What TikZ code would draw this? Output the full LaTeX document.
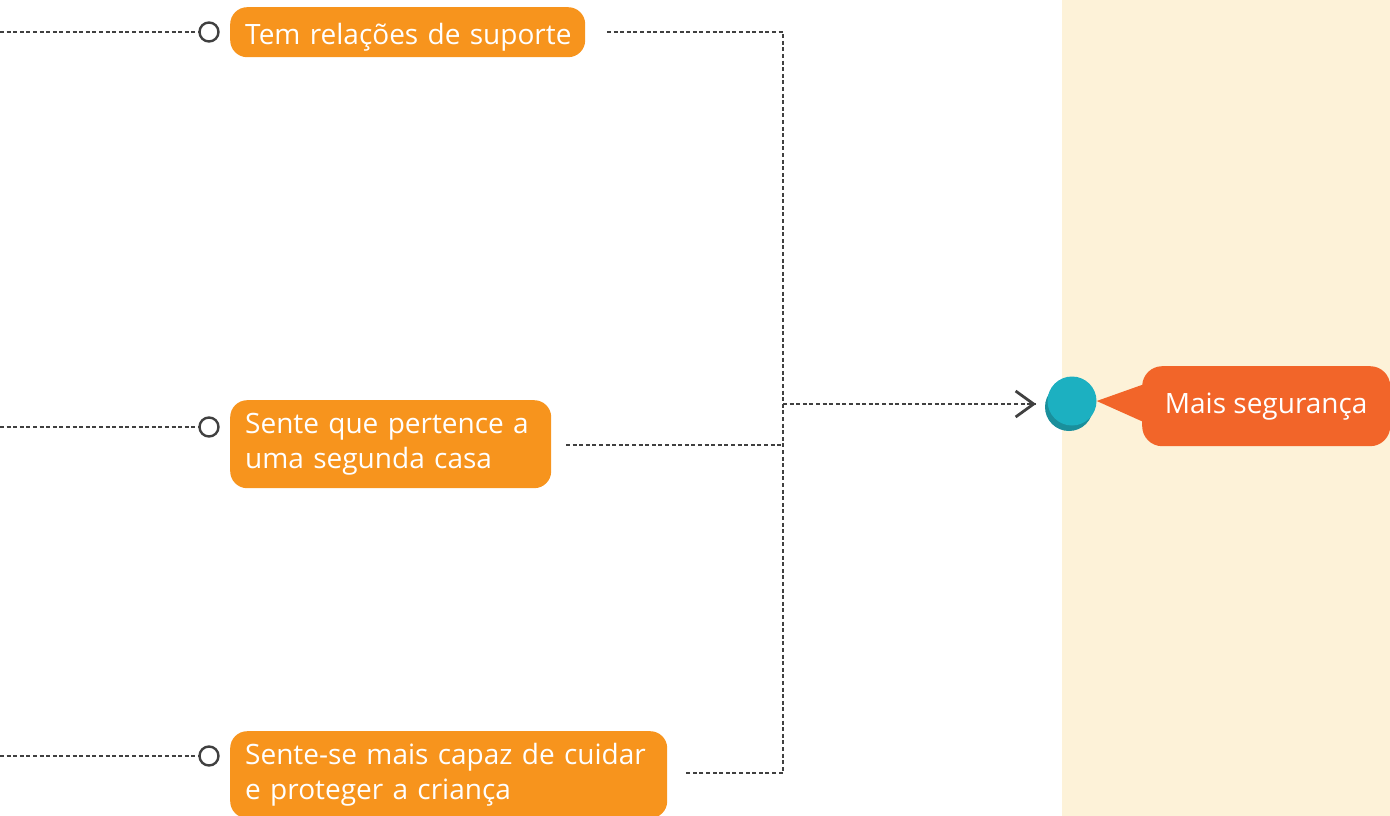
\documentclass[tikz,border=0pt]{standalone}
\usepackage{fontspec}
\setmainfont{Open Sans}
\usetikzlibrary{arrows.meta,calc}
\definecolor{laranja}{HTML}{F7941D}
\definecolor{vermelho}{HTML}{F26529}
\definecolor{creme}{HTML}{FDF2D8}
\definecolor{linha}{HTML}{404040}
\definecolor{turq}{HTML}{1CB0C1}
\definecolor{turqesc}{HTML}{1A8F9C}
\tikzstyle{tracej}=[draw=linha, line width=2.5pt, dash pattern=on 4pt off 2.6pt]
\tikzstyle{caixa}=[fill=laranja, rounded corners=17pt, text=white, align=left, inner xsep=15pt, inner ysep=0pt, anchor=north west, font=\fontsize{28}{35}\selectfont]
\tikzstyle{bola}=[circle, draw=linha, line width=2.4pt, fill=white, minimum size=19pt, inner sep=0pt]

\begin{document}
\begin{tikzpicture}[x=1pt, y=-1pt]
\useasboundingbox (0,0) rectangle (1390,816);
\fill[creme] (1062,0) rectangle (1390,816);

\node (c1) [caixa, minimum height=50pt, text width=325pt, text height=26pt, text depth=2pt] at (230,7) {\mbox{Tem relações de suporte}};
\node (c2) [caixa, minimum height=88pt, text width=291pt] at (230,400) {Sente que pertence a\\uma segunda casa};
\node (c3) [caixa, minimum height=87pt, text width=407pt] at (230,731) {Sente-se mais capaz de cuidar\\e proteger a criança};

\node (b1) [bola] at (209,32) {};
\node (b2) [bola] at (209,427) {};
\node (b3) [bola] at (209,756) {};

\coordinate (e1) at (0,32);
\coordinate (e2) at (0,427);
\coordinate (e3) at (0,756);
\draw (e1) -- (b1) [tracej];
\draw (e2) -- (b2) [tracej];
\draw (e3) -- (b3) [tracej];

\coordinate (s1) at (607,32);
\coordinate (s2) at (566,445);
\coordinate (s3) at (686,773);
\coordinate (t1) at (783,32);
\coordinate (t2) at (783,445);
\coordinate (t3) at (783,773);
\coordinate (m) at (783,404);
\coordinate (p) at (1036,404);
\draw (s1) -- (t1) -- (t3) -- (s3) [tracej];
\draw (s2) -- (t2) [tracej];
\draw (m) -- (p) [tracej];
\draw[linha, line width=2.8pt, -{Straight Barb[length=18pt, width=26pt]}] ($(p)+(-3,0)$) -- (p);

\fill[turqesc] (1069,407) circle (24pt);
\node (alvo) [circle, fill=turq, minimum size=49pt, inner sep=0pt] at (1072,401) {};

\node (res) [fill=vermelho, rounded corners=20pt, text=white, minimum width=248pt, minimum height=80pt, anchor=north west, inner sep=0pt, font=\fontsize{28}{35}\selectfont] at (1142,366) {Mais segurança};
\fill[vermelho] (alvo.east) -- ($(res.west)+(2,-22)$) -- ($(res.west)+(2,16)$) -- cycle;

\end{tikzpicture}
\end{document}
